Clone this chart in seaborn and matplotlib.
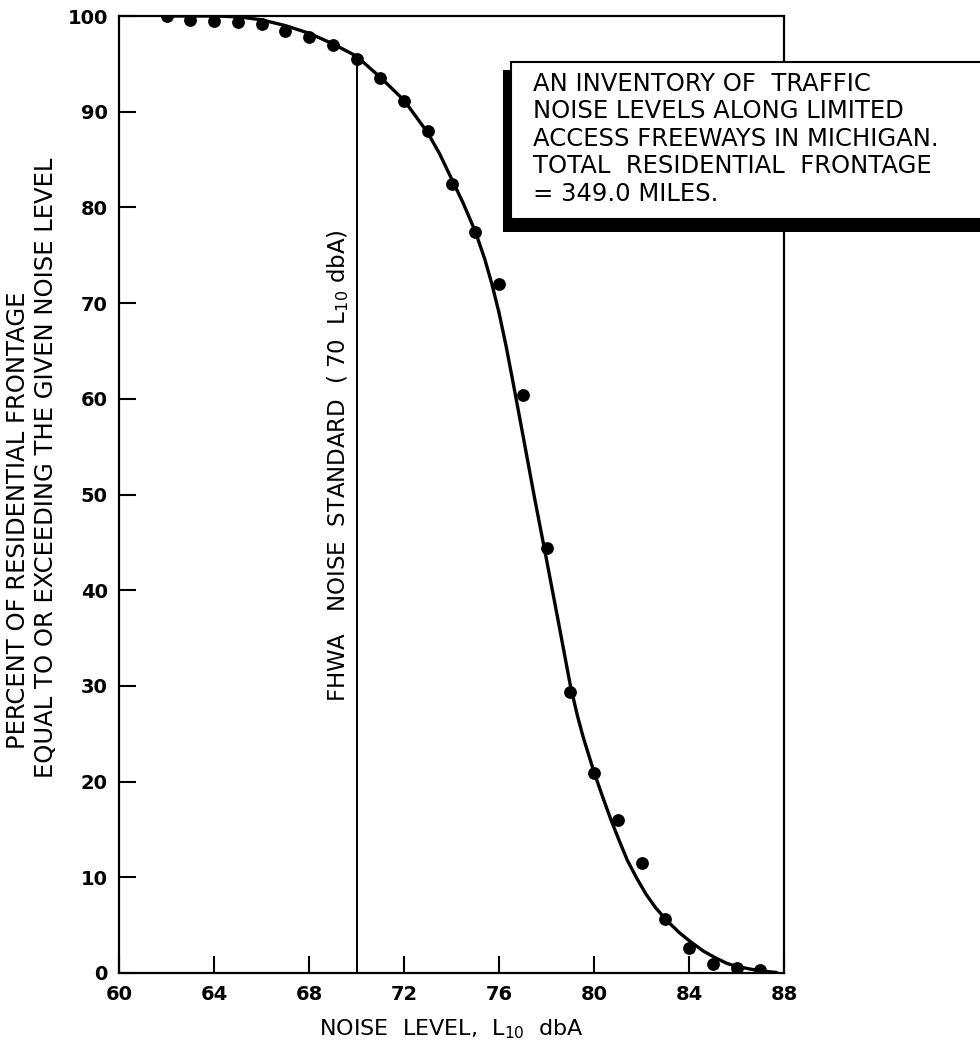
import matplotlib
matplotlib.use("Agg")
import matplotlib.pyplot as plt
import seaborn as sns
from matplotlib.patches import Rectangle

# measured points (noise level L10 dbA vs percent of frontage)
noise_level = [62, 63, 64, 65, 66, 67, 68, 69, 70, 71, 72, 73, 74,
               75, 76, 77, 78, 79, 80, 81, 82, 83, 84, 85, 86, 87]
pct_frontage = [100.0, 99.6, 99.5, 99.4, 99.2, 98.4, 97.8, 97.0, 95.5,
                93.5, 91.1, 88.0, 82.4, 77.4, 72.0, 60.4, 44.4, 29.4,
                20.9, 16.0, 11.5, 5.6, 2.6, 0.9, 0.5, 0.3]

# fitted curve
curve_level = [62.0, 63.1, 64.1, 65.1, 66.0, 67.0, 68.0, 69.0, 70.0, 71.0,
               72.0, 73.0, 73.5, 74.0, 74.5, 75.0, 75.4, 75.7, 76.0, 76.3,
               76.6, 77.0, 77.5, 78.0, 78.5, 79.0, 79.3, 79.55, 79.8, 80.0,
               80.35, 80.7, 81.05, 81.4, 81.8, 82.2, 82.6, 83.1, 83.6, 84.05,
               84.6, 85.1, 85.6, 86.0, 86.6, 87.1, 87.7]
curve_pct = [100.0, 100.0, 100.0, 99.9, 99.6, 99.0, 98.2, 97.1, 95.8, 93.6,
             91.2, 87.8, 85.6, 83.0, 80.4, 77.5, 74.6, 72.0, 69.0, 65.5,
             61.6, 56.3, 49.6, 43.2, 36.7, 30.1, 26.9, 24.6, 22.6, 21.0,
             18.5, 16.1, 13.9, 11.8, 9.9, 8.2, 6.8, 5.4, 4.2, 3.3,
             2.3, 1.6, 1.0, 0.7, 0.4, 0.2, 0.05]

standard_level = 70
standard_top = 95.6

x_ticks = [60, 64, 68, 72, 76, 80, 84, 88]
y_ticks = [0, 10, 20, 30, 40, 50, 60, 70, 80, 90, 100]

box_lines = ["AN INVENTORY OF  TRAFFIC",
             "NOISE LEVELS ALONG LIMITED",
             "ACCESS FREEWAYS IN MICHIGAN.",
             "TOTAL  RESIDENTIAL  FRONTAGE",
             "= 349.0 MILES."]

sns.set_style("white")
plt.rcParams['font.family'] = ['DejaVu Sans']
plt.rcParams['mathtext.default'] = 'regular'
plt.rcParams['text.color'] = 'black'
plt.rcParams['axes.labelcolor'] = 'black'

W, H = 980, 1042
fig = plt.figure(figsize=(W / 100, H / 100), dpi=100)
ax = fig.add_axes([119 / W, (H - 973) / H, 665 / W, (973 - 16) / H])

sns.lineplot(x=curve_level, y=curve_pct, color="black", linewidth=2.4,
             sort=False, estimator=None, ax=ax)
sns.scatterplot(x=noise_level, y=pct_frontage, color="black", s=85,
                linewidth=0, ax=ax, zorder=3)
ax.vlines(standard_level, 0, standard_top, color="black", lw=1.4)
ax.text(standard_level - 0.25, 53,
        "FHWA   NOISE  STANDARD  ( 70  L$_{10}$ dbA)",
        rotation=90, ha="right", va="center", fontsize=16.5)

ax.set_xlim(60, 88)
ax.set_ylim(0, 100)
ax.set_xticks(x_ticks)
ax.set_yticks(y_ticks)
ax.tick_params(direction="in", length=12, width=1.5, labelsize=14,
               colors="black", bottom=True, left=True)
ax.tick_params(axis="y", pad=8)
ax.tick_params(axis="x", pad=9)
for lbl in ax.get_xticklabels() + ax.get_yticklabels():
    lbl.set_fontweight("bold")
for sp in ax.spines.values():
    sp.set_linewidth(1.6)
    sp.set_color("black")

ax.set_xlabel("NOISE  LEVEL,  L$_{10}$  dbA", fontsize=16, labelpad=9)
ax.set_ylabel("")

fig.text(18 / W, 1 - 520 / H, "PERCENT OF RESIDENTIAL FRONTAGE",
         rotation=90, ha="center", va="center", fontsize=17.5)
fig.text(46 / W, 1 - 468 / H, "EQUAL TO OR EXCEEDING THE GIVEN NOISE LEVEL",
         rotation=90, ha="center", va="center", fontsize=17.5)

# note box with heavy shadow on the lower left
fig.add_artist(Rectangle((503 / W, 1 - 232 / H), 0.6, (232 - 70) / H,
                         transform=fig.transFigure, facecolor="black",
                         edgecolor="none", zorder=5))
fig.add_artist(Rectangle((511 / W, 1 - 219 / H), 0.6, (219 - 62) / H,
                         transform=fig.transFigure, facecolor="white",
                         edgecolor="black", lw=1.5, zorder=6))
fig.text(533 / W, 1 - 72 / H, "\n".join(box_lines), ha="left", va="top",
         fontsize=17.5, linespacing=1.18, zorder=7)

fig.savefig("out.png", dpi=100)
